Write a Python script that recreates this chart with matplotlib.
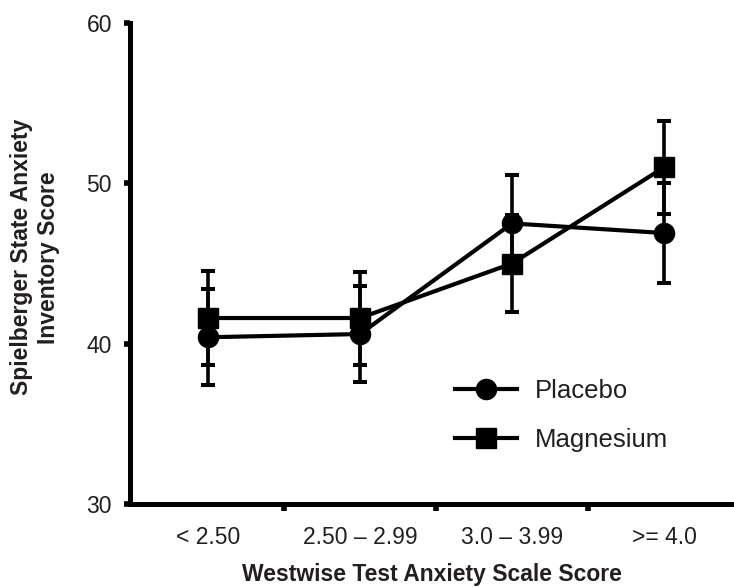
import matplotlib
matplotlib.use("Agg")
import matplotlib.pyplot as plt
import numpy as np

categories = ["< 2.50", "2.50 \u2013 2.99", "3.0 \u2013 3.99", ">= 4.0"]
placebo = [40.4, 40.6, 47.5, 46.9]
placebo_err = [3.0, 3.0, 3.0, 3.1]
magnesium = [41.6, 41.6, 45.0, 51.0]
magnesium_err = [2.95, 2.9, 3.0, 2.9]
yticks = [30, 40, 50, 60]

plt.rcParams['font.family'] = ['Liberation Sans', 'DejaVu Sans']
txt = '#231f20'

fig = plt.figure(figsize=(7.34, 5.88), dpi=100)
ax = fig.add_axes([130/734, 1 - 504/588, 1 - 130/734, (504 - 23)/588])

x = np.arange(len(categories))
lw = 3.0
ms = 14.5
ekw = dict(ecolor='black', elinewidth=2.6, capsize=4.8, capthick=2.9, zorder=2)
ax.errorbar(x, placebo, yerr=placebo_err, fmt='none', **ekw)
ax.errorbar(x, magnesium, yerr=magnesium_err, fmt='none', **ekw)
l1, = ax.plot(x, placebo, color='black', lw=lw, marker='o', ms=ms, label='Placebo', zorder=3)
l2, = ax.plot(x, magnesium, color='black', lw=lw, marker='s', ms=ms, label='Magnesium', zorder=3)

ax.set_ylim(30, 60)
ax.set_xlim(-0.513, 3.46)
ax.set_yticks(yticks)
ax.set_xticks([0.5, 1.5, 2.5])
ax.set_xticklabels([])
ax.set_xticks(x, minor=True)
ax.set_xticklabels(categories, minor=True)
ax.tick_params(axis='x', which='minor', length=0, pad=16, labelsize=16.5, labelcolor=txt)
ax.tick_params(axis='x', which='major', length=5, width=4, direction='out')
ax.tick_params(axis='y', length=4, width=4, direction='out', pad=9, labelsize=16.5, labelcolor=txt)

for s in ['top', 'right']:
    ax.spines[s].set_visible(False)
for s in ['left', 'bottom']:
    ax.spines[s].set_linewidth(3.6)

ax.set_ylabel("Spielberger State Anxiety\nInventory Score", fontsize=16.5, color=txt,
              fontweight='bold', ha='center', va='center', multialignment='center')
ax.yaxis.set_label_coords(-0.157, 0.513)
ax.set_xlabel("Westwise Test Anxiety Scale Score", fontsize=16.5, fontweight='bold',
              color=txt, ha='center', va='center')
ax.xaxis.set_label_coords(0.5, -0.146)

fig.legend(handles=[l1, l2], loc='center left', bbox_to_anchor=(455/734, 1 - 415.5/588),
           frameon=False, fontsize=18.5, handlelength=2.4, handletextpad=0.7,
           labelspacing=1.0, borderpad=0, borderaxespad=0, labelcolor=txt)

fig.savefig("out.png", dpi=100)
